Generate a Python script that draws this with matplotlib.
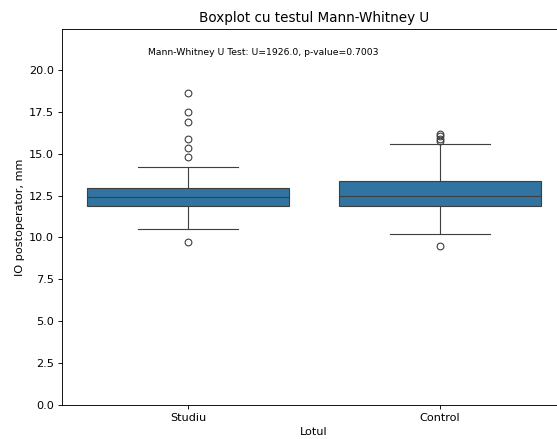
import matplotlib
matplotlib.use("Agg")
import matplotlib.pyplot as plt

#Groups and box statistics
groupNames = ["Studiu", "Control"]
medianValues = [12.42, 12.50]
lowerQuartiles = [11.88, 11.88]
upperQuartiles = [12.93, 13.36]
lowerWhiskers = [10.48, 10.18]
upperWhiskers = [14.20, 15.56]
outlierValues = [
    [9.72, 14.78, 15.36, 15.89, 16.86, 17.48, 18.65],
    [9.48, 15.75, 15.90, 16.05, 16.20],
]
yTicks = [0.0, 2.5, 5.0, 7.5, 10.0, 12.5, 15.0, 17.5, 20.0]
testText = "Mann-Whitney U Test: U=1926.0, p-value=0.7003"

boxColor = "#3274a1"
lineColor = "#3f3f3f"

#Build the stats list that bxp expects
boxStats = []
for i in range(len(groupNames)):
    boxStats.append({
        "label": groupNames[i],
        "med": medianValues[i],
        "q1": lowerQuartiles[i],
        "q3": upperQuartiles[i],
        "whislo": lowerWhiskers[i],
        "whishi": upperWhiskers[i],
        "fliers": outlierValues[i],
    })

fig = plt.figure(figsize=(557 / 81, 439 / 81), dpi=81)
ax = fig.add_axes([62 / 557, 34 / 439, 504 / 557, 376 / 439])

ax.bxp(boxStats, positions=range(len(groupNames)), widths=0.8, capwidths=0.4,
       patch_artist=True,
       boxprops=dict(facecolor=boxColor, edgecolor=lineColor, linewidth=1.0),
       medianprops=dict(color=lineColor, linewidth=1.0),
       whiskerprops=dict(color=lineColor, linewidth=1.0),
       capprops=dict(color=lineColor, linewidth=1.0),
       flierprops=dict(marker="o", markerfacecolor="none", markeredgecolor=lineColor,
                       markersize=6, linestyle="none"))

ax.set_xlim(-0.5, 1.5)
ax.set_ylim(0, 22.44)
ax.set_yticks(yTicks)
ax.set_xticks(range(len(groupNames)))
ax.set_xticklabels(groupNames)
ax.set_xlabel("Lotul")
ax.set_ylabel("IO postoperator, mm")
ax.set_title("Boxplot cu testul Mann-Whitney U")
ax.text(0.4, 0.95, testText, transform=ax.transAxes, ha="center", va="top", fontsize=8.2)

fig.savefig("out.png", dpi=81)
